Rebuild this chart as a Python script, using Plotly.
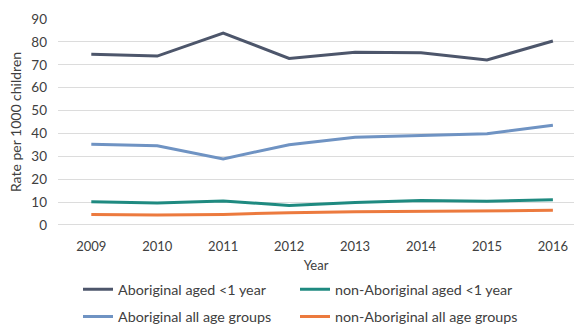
import plotly.graph_objects as go

years = ["2009", "2010", "2011", "2012", "2013", "2014", "2015", "2016"]
abor_infant = [74.6, 73.8, 83.8, 72.8, 75.5, 75.3, 72.1, 80.4]
nonabor_infant = [10.2, 9.6, 10.5, 8.5, 9.8, 10.7, 10.4, 11.0]
abor_all = [35.3, 34.6, 28.9, 35.1, 38.3, 39.0, 39.9, 43.6]
nonabor_all = [4.6, 4.4, 4.6, 5.4, 5.8, 5.9, 6.0, 6.4]

names = ["Aboriginal aged <1 year", "non-Aboriginal aged <1 year",
         "Aboriginal all age groups", "non-Aboriginal all age groups"]
colors = ["#4D566B", "#1F8A80", "#6F93C3", "#EC7A3E"]
series = [abor_infant, nonabor_infant, abor_all, nonabor_all]
legends = ["legend", "legend2", "legend3", "legend4"]
# legend anchor (container px): column x, row y
leg_pos = [(78, 289.5), (295, 289.5), (78, 316.8), (295, 316.8)]

fig = go.Figure()
for n, c, s, lg in zip(names, colors, series, legends):
    fig.add_trace(go.Scatter(x=years, y=s, mode="lines", name=n,
                             line=dict(color=c, width=3), legend=lg))

txt = "#404040"
tickfont = dict(family="Lato", size=13, color=txt)
legfont = dict(family="Lato", size=14.3, color=txt)

layout_legends = {}
for lg, (px, py) in zip(legends, leg_pos):
    layout_legends[lg] = dict(orientation="h", xref="container", yref="container",
                              x=px / 577, y=1 - py / 324,
                              xanchor="left", yanchor="middle", font=legfont,
                              bgcolor="rgba(0,0,0,0)", itemwidth=30, borderwidth=0)

fig.update_layout(
    width=577, height=324,
    margin=dict(l=58, r=3, t=19, b=98.5, autoexpand=False),
    paper_bgcolor="white", plot_bgcolor="white",
    font=tickfont,
    xaxis=dict(type="category", range=[-0.505, 7.32], showgrid=False,
               ticks="", tickfont=tickfont, zeroline=False, showline=False,
               ticklabelstandoff=12, automargin=True,
               title=dict(text="Year", font=tickfont, standoff=8)),
    yaxis=dict(range=[0, 90], dtick=10, showgrid=True, gridcolor="#DCDCDC",
               gridwidth=1.3, zeroline=False, showline=False, ticks="",
               tickfont=dict(family="Lato", size=13.5, color=txt),
               ticklabelstandoff=10, automargin=True,
               title=dict(text="Rate per 1000 children",
                          font=dict(family="Lato", size=14, color=txt),
                          standoff=6)),
    showlegend=True,
    **layout_legends,
)
fig.add_shape(type="line", xref="paper", yref="y", x0=0, x1=1, y0=0, y1=0,
              line=dict(color="#D0D0D0", width=1.5), layer="below")

fig.write_html("out.html")
